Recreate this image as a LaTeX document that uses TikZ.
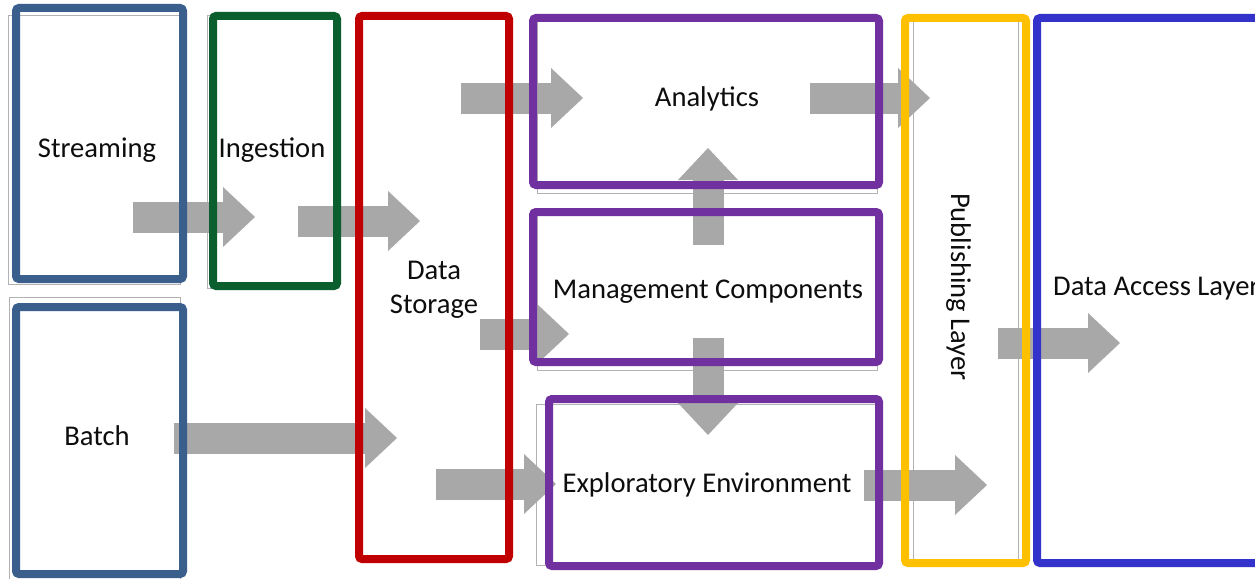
\documentclass[tikz,border=0pt]{standalone}
\usepackage{fontspec}
\setmainfont{Carlito}
\usetikzlibrary{arrows.meta}

\definecolor{srcblue}{RGB}{59,95,140}
\definecolor{ingreen}{RGB}{11,94,46}
\definecolor{storered}{RGB}{192,0,0}
\definecolor{procpurple}{RGB}{112,48,160}
\definecolor{pubyellow}{RGB}{255,192,0}
\definecolor{accessblue}{RGB}{51,51,204}
\definecolor{flowgray}{RGB}{168,168,168}

\begin{document}
\begin{tikzpicture}[x=1pt,y=-1pt,
  frame/.style={draw=#1, line width=8pt, rounded corners=3pt,
    inner sep=0pt, outer sep=0pt},
  ghost/.style={draw=black!30, line width=0.9pt},
  txt/.style={font=\fontsize{28.6}{35}\selectfont, text=black!95, inner sep=0pt},
  flow/.style={draw=flowgray, line width=31pt,
    -{Triangle[length=32pt,width=60pt,line width=0pt]}}]

% canvas
\useasboundingbox (0,0) rectangle (1255,578);
\fill[white] (0,0) rectangle (1255,578);

% faint outlines of the underlying blocks
\draw[ghost] (8,15) rectangle (180,284);
\draw[ghost] (207,15) rectangle (335,288);
\draw[ghost] (9,297) rectangle (180,590);
\draw[ghost] (537,15) rectangle (877,193);
\draw[ghost] (537,210) rectangle (877,370);
\draw[ghost] (536,404) rectangle (877,565);
\draw[ghost] (913,14) rectangle (1018,561);

% end points of the flow arrows
\coordinate (s1) at (133,217);  \coordinate (e1) at (255,217);
\coordinate (s2) at (298,221);  \coordinate (e2) at (420,221);
\coordinate (s3) at (461,98);   \coordinate (e3) at (583,98);
\coordinate (s4) at (810,98);   \coordinate (e4) at (930,98);
\coordinate (s5) at (480,334);  \coordinate (e5) at (569,334);
\coordinate (s6) at (174,438);  \coordinate (e6) at (397,438);
\coordinate (s7) at (436,484);  \coordinate (e7) at (556,484);
\coordinate (s8) at (708,245);  \coordinate (e8) at (708,148);
\coordinate (s9) at (708,338);  \coordinate (e9) at (708,435);
\coordinate (s10) at (864,485); \coordinate (e10) at (987,485);
\coordinate (s11) at (998,343); \coordinate (e11) at (1120,343);

% flow arrows (behind the frames)
\foreach \i in {1,...,11} {
  \draw[flow] (s\i) -- (e\i);
}

% coloured frames
\node[frame=srcblue, minimum width=167pt, minimum height=271pt] (streaming) at (99.5,143.5) {};
\node[frame=srcblue, minimum width=167pt, minimum height=267pt] (batch) at (99.5,440.5) {};
\node[frame=ingreen, minimum width=124pt, minimum height=270pt] (ingestion) at (275,151) {};
\node[frame=storered, minimum width=150pt, minimum height=543pt] (storage) at (434,287.5) {};
\node[frame=procpurple, minimum width=346pt, minimum height=167pt] (analytics) at (706,101.5) {};
\node[frame=procpurple, minimum width=346pt, minimum height=150pt] (management) at (706,287) {};
\node[frame=procpurple, minimum width=330pt, minimum height=167pt] (exploratory) at (714,482.5) {};
\node[frame=pubyellow, minimum width=121pt, minimum height=545pt] (publishing) at (965.5,290.5) {};
\node[frame=accessblue, minimum width=238pt, minimum height=545pt] (access) at (1156,290.5) {};

% labels
\node[txt, anchor=base] (streaming-t) at (97,157) {Streaming};
\node[txt, anchor=base] (ingestion-t) at (272,157) {Ingestion};
\node[txt, anchor=base] (storage-t1) at (434,279) {Data};
\node[txt, anchor=base] (storage-t2) at (434,313) {Storage};
\node[txt, anchor=base] (batch-t) at (97,445) {Batch};
\node[txt, anchor=base] (analytics-t) at (707,106) {Analytics};
\node[txt, anchor=base] (management-t) at (708,298) {Management Components};
\node[txt, anchor=base] (exploratory-t) at (707,492) {Exploratory Environment};
\node[txt, anchor=base, rotate=-90] (publishing-t) at (951,287) {Publishing Layer};
\node[txt, anchor=base west] (access-t) at (1053,295) {Data Access Layer};
\end{tikzpicture}
\end{document}
